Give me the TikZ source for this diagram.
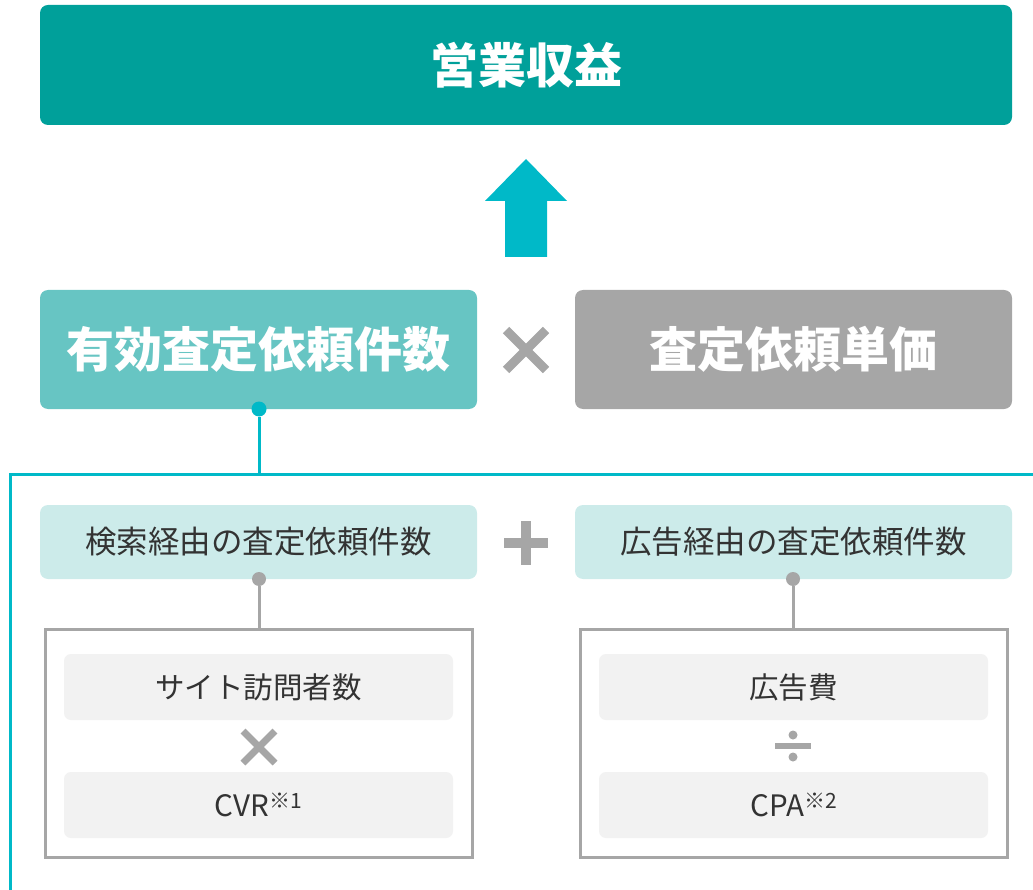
\documentclass[tikz,border=0pt]{standalone}
\usepackage{fontspec}
\usetikzlibrary{calc}
\setmainfont{Noto Sans CJK JP}
\definecolor{topteal}{HTML}{00A09A}
\definecolor{arrowc}{HTML}{00B9C8}
\definecolor{midteal}{HTML}{67C5C3}
\definecolor{midgray}{HTML}{A6A6A6}
\definecolor{lightteal}{HTML}{CCEBEA}
\definecolor{innerfill}{HTML}{F2F2F2}
\definecolor{txt}{HTML}{333333}
\begin{document}
\begin{tikzpicture}[x=1pt,y=-1pt,
  bigbox/.style={rounded corners=8pt,inner sep=0pt,minimum width=437pt,minimum height=119pt,text=white,font=\fontsize{48}{52}\selectfont\bfseries},
  subbox/.style={rounded corners=8pt,fill=lightteal,inner sep=0pt,minimum width=437pt,minimum height=74pt,text=txt,font=\fontsize{31.5}{34}\selectfont},
  outerbox/.style={draw=midgray,line width=3pt,fill=white,inner sep=0pt,minimum width=427pt,minimum height=228pt},
  innerbox/.style={rounded corners=7pt,fill=innerfill,inner sep=0pt,minimum width=389pt,minimum height=66pt,text=txt,font=\fontsize{29.5}{32}\selectfont},
  opsym/.style={draw=midgray,line width=#1},
  dotn/.style={circle,inner sep=0pt,minimum size=#1},
  link/.style={line width=3pt}
]
\useasboundingbox (0,0) rectangle (1033,890);

% top
\node[bigbox,fill=topteal,minimum width=972pt,minimum height=120pt] (top) at (526,65) {営業収益};
% arrow
\fill[arrowc] (526,159) -- (567,201) -- (547,201) -- (547,257) -- (505,257) -- (505,201) -- (485,201) -- cycle;

% second row
\node[bigbox,fill=midteal] (eff) at (258.5,349.5) {有効査定依頼件数};
\node[bigbox,fill=midgray] (price) at (793.5,349.5) {査定依頼単価};
\coordinate (mul) at (526,350);
\draw[opsym=9pt] ($(mul)+(-20,-20)$) -- ($(mul)+(20,20)$) ($(mul)+(-20,20)$) -- ($(mul)+(20,-20)$);

% frame
\coordinate (fbl) at (10,890);
\coordinate (ftl) at (10,474);
\coordinate (ftr) at (1033,474);
\draw[arrowc,line width=3pt] (fbl) -- (ftl) -- (ftr);
\node[dotn=15pt,fill=arrowc] (edot) at (259,409) {};
\draw[arrowc,link] (edot) -- (edot |- ftl);

% sub boxes
\node[subbox] (sl) at (258.5,542) {検索経由の査定依頼件数};
\node[subbox] (sr) at (793.5,542) {広告経由の査定依頼件数};
\coordinate (plus) at (526,543);
\draw[opsym=10pt] ($(plus)+(-22,0)$) -- ($(plus)+(22,0)$) ($(plus)+(0,-22)$) -- ($(plus)+(0,22)$);

% outer boxes
\node[outerbox] (bl) at (258.5,743) {};
\node[outerbox] (br) at (793.5,743) {};
\node[dotn=14pt,fill=midgray] (ldot) at (259,579) {};
\node[dotn=14pt,fill=midgray] (rdot) at (793,579) {};
\draw[midgray,link] (ldot) -- (bl.north -| ldot);
\draw[midgray,link] (rdot) -- (br.north -| rdot);

% inner boxes
\node[innerbox] (visit) at (258.5,687) {サイト訪問者数};
\node[innerbox] (cvr) at (258.5,805) {CVR\raisebox{0.5ex}{\fontsize{21}{22}\selectfont ※1}};
\node[innerbox] (cost) at (793.5,687) {広告費};
\node[innerbox] (cpa) at (793.5,805) {CPA\raisebox{0.5ex}{\fontsize{21}{22}\selectfont ※2}};

\coordinate (smul) at (259,747);
\draw[opsym=7pt] ($(smul)+(-16,-16)$) -- ($(smul)+(16,16)$) ($(smul)+(-16,16)$) -- ($(smul)+(16,-16)$);
\coordinate (div) at (793,746);
\draw[opsym=6pt] ($(div)+(-18,0)$) -- ($(div)+(18,0)$);
\fill[midgray] ($(div)+(0,-11)$) circle (4.5pt) ($(div)+(0,11)$) circle (4.5pt);
\end{tikzpicture}
\end{document}
